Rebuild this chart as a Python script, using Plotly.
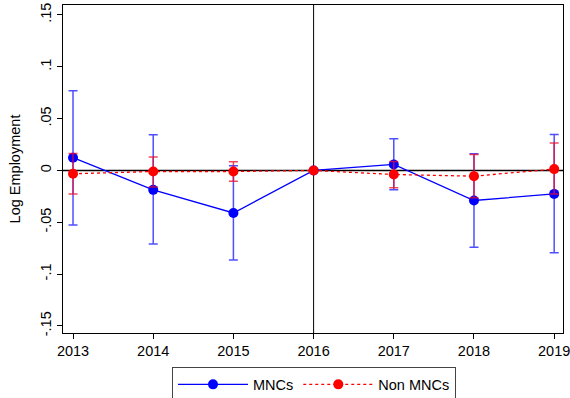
import plotly.graph_objects as go

years = [2013, 2014, 2015, 2016, 2017, 2018, 2019]

mnc_est = [0.0123, -0.0187, -0.0410, 0.0, 0.0058, -0.0290, -0.0226]
mnc_hi = [0.0770, 0.0345, 0.0045, None, 0.0307, 0.0160, 0.0348]
mnc_lo = [-0.0526, -0.0710, -0.0865, None, -0.0187, -0.0742, -0.0794]

non_est = [-0.0032, -0.0010, -0.0010, 0.0, -0.0039, -0.0055, 0.0013]
non_hi = [0.0164, 0.0129, 0.0084, None, 0.0087, 0.0155, 0.0264]
non_lo = [-0.0226, -0.0160, -0.0103, None, -0.0168, -0.0264, -0.0226]

y_ticks = [0.15, 0.1, 0.05, 0, -0.05, -0.1, -0.15]
y_tick_labels = [".15", ".1", ".05", "0", "-.05", "-.1", "-.15"]


def up(est, hi):
    return [float('nan') if h is None else h - e for e, h in zip(est, hi)]


def down(est, lo):
    return [float('nan') if l is None else e - l for e, l in zip(est, lo)]


fig = go.Figure()

fig.add_trace(go.Scatter(
    x=years, y=mnc_est, name="MNCs", mode="lines+markers",
    line=dict(color="#0000FF", width=1.3),
    marker=dict(color="#0000FF", size=10),
    error_y=dict(type="data", symmetric=False,
                 array=up(mnc_est, mnc_hi), arrayminus=down(mnc_est, mnc_lo),
                 color="rgba(20,20,255,0.75)", thickness=1.5, width=4.5),
))

fig.add_trace(go.Scatter(
    x=years, y=non_est, name="Non MNCs", mode="lines+markers",
    line=dict(color="#FF0000", width=1.3, dash="dot"),
    marker=dict(color="#FF0000", size=10),
    error_y=dict(type="data", symmetric=False,
                 array=up(non_est, non_hi), arrayminus=down(non_est, non_lo),
                 color="rgba(240,10,40,0.75)", thickness=1.5, width=4.5),
))

fig.add_shape(type="line", xref="x", yref="paper", x0=2016, x1=2016, y0=0, y1=1,
              line=dict(color="black", width=1), layer="below")
fig.add_shape(type="line", xref="paper", yref="y", x0=0, x1=1, y0=0, y1=0,
              line=dict(color="black", width=1.5), layer="below")

fig.update_layout(
    width=570, height=398,
    margin=dict(l=63, r=7, t=5, b=65, autoexpand=False),
    paper_bgcolor="white", plot_bgcolor="white",
    font=dict(family="Liberation Sans, Arial, sans-serif", size=14.5, color="black"),
    showlegend=True,
    legend=dict(orientation="h", x=0.502, xanchor="center", y=-0.105, yanchor="top",
                bordercolor="#444", borderwidth=1, font=dict(size=14.5),
                itemwidth=70, traceorder="normal"),
)

fig.update_xaxes(
    range=[2012.875, 2019.11], tickmode="array", tickvals=years, automargin=False,
    ticklabeloverflow="allow",
    ticks="outside", ticklen=5, tickcolor="black", showgrid=False, zeroline=False,
    showline=True, linecolor="black", linewidth=1, mirror=True,
)
fig.update_yaxes(
    range=[-0.1568, 0.1596], tickmode="array", tickvals=y_ticks, ticktext=y_tick_labels,
    automargin=False, ticklabeloverflow="allow",
    tickangle=-90, ticks="outside", ticklen=5, tickcolor="black", showgrid=False,
    zeroline=False, showline=True, linecolor="black", linewidth=1, mirror=True,
    title=dict(text="Log Employment", font=dict(size=14.5), standoff=14),
)

fig.write_html("out.html", config={"displayModeBar": False},
               post_script="document.body.style.margin='0px';document.body.style.overflow='hidden';")
